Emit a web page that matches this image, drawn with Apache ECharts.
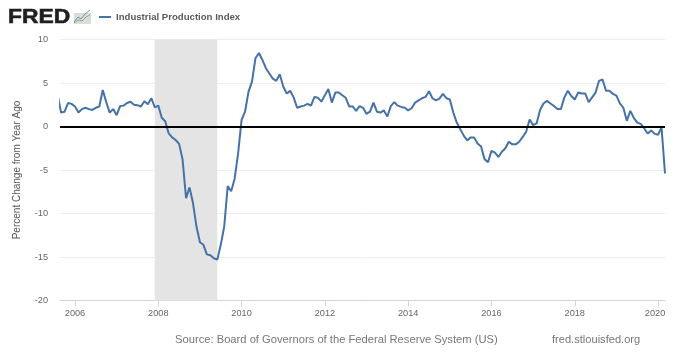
<!DOCTYPE html>
<html>
<head>
<meta charset="utf-8">
<style>html,body{margin:0;padding:0;background:#fff}#c{width:680px;height:360px}</style>
<script src="https://cdn.jsdelivr.net/npm/echarts@6/dist/echarts.min.js"></script>
</head>
<body>
<div id="c"></div>
<script>
const seriesName = 'Industrial Production Index';
const tickYears = [2006, 2008, 2010, 2012, 2014, 2016, 2018, 2020];
const recession = [2007 + 11 / 12, 2009 + 5 / 12];
const firstMonth = [2005, 7]; // Aug 2005
const xRange = [2005.64, 2020 + 2 / 12];
const y2005 = [3.6, 1.6, 1.7, 2.7, 2.6];
const y2006 = [2.3, 1.6, 2.0, 2.15, 2.0, 1.9, 2.15, 2.3, 4.2, 2.8, 1.6, 2.0];
const y2007 = [1.3, 2.35, 2.4, 2.7, 2.85, 2.5, 2.45, 2.3, 2.9, 2.55, 3.25, 2.2];
const y2008 = [2.4, 1.0, 0.6, -0.8, -1.25, -1.55, -2.0, -3.8, -8.25, -7.0, -8.8, -11.5];
const y2009 = [-13.3, -13.6, -14.7, -14.8, -15.15, -15.3, -13.6, -11.5, -6.85, -7.45, -6.0, -3.1];
const y2010 = [0.75, 1.7, 4.0, 5.15, 7.85, 8.45, 7.65, 6.7, 6.1, 5.5, 5.25, 6.0];
const y2011 = [4.6, 3.8, 4.1, 3.35, 2.15, 2.3, 2.4, 2.6, 2.4, 3.4, 3.3, 2.85];
const y2012 = [3.6, 4.3, 2.75, 3.9, 3.9, 3.6, 3.3, 2.3, 2.3, 1.8, 2.35, 2.15];
const y2013 = [1.45, 1.7, 2.75, 1.7, 1.6, 1.85, 1.15, 2.35, 2.8, 2.4, 2.25, 2.15];
const y2014 = [1.85, 2.1, 2.75, 3.0, 3.25, 3.4, 4.05, 3.25, 3.0, 3.2, 3.75, 3.25];
const y2015 = [3.1, 1.6, 0.45, -0.3, -1.05, -1.6, -1.25, -1.25, -1.95, -2.3, -3.75, -4.1];
const y2016 = [-2.8, -3.0, -3.5, -2.9, -2.5, -1.75, -2.05, -2.05, -1.75, -1.2, -0.6, 0.8];
const y2017 = [0.15, 0.35, 1.9, 2.65, 2.95, 2.65, 2.35, 2.0, 2.0, 3.35, 4.1, 3.5];
const y2018 = [3.1, 3.9, 3.8, 3.8, 2.8, 3.35, 3.9, 5.25, 5.4, 4.1, 4.1, 3.75];
const y2019 = [3.55, 2.65, 2.15, 0.65, 1.8, 1.0, 0.45, 0.3, -0.2, -0.8, -0.45, -0.85];
const y2020 = [-0.95, -0.1, -5.4];

const values = [].concat(y2005, y2006, y2007, y2008, y2009, y2010, y2011, y2012,
  y2013, y2014, y2015, y2016, y2017, y2018, y2019, y2020);
const points = values.map((v, i) => [firstMonth[0] + (firstMonth[1] + i) / 12, v]);

const chart = echarts.init(document.getElementById('c'), null, {renderer: 'canvas'});
const font = '"Liberation Sans", Arial, sans-serif';
chart.setOption({
  animation: false,
  backgroundColor: '#fff',
  textStyle: {fontFamily: font},
  grid: {left: 60, right: 15, top: 39.5, bottom: 59.5, containLabel: false},
  legend: {
    left: 94, top: 7, icon: 'rect', itemWidth: 12, itemHeight: 2, itemGap: 4,
    textStyle: {color: '#5a5a5a', fontSize: 9.6, fontWeight: 'bold', fontFamily: font},
    data: [seriesName]
  },
  xAxis: {
    type: 'value',
    min: xRange[0],
    max: xRange[1],
    axisLine: {onZero: false, lineStyle: {color: '#ccd6eb', width: 1}},
    axisTick: {show: true, length: 6, customValues: tickYears, lineStyle: {color: '#ccd6eb'}},
    axisLabel: {
      customValues: tickYears, color: '#666', fontSize: 9.2, margin: 8, hideOverlap: false,
      showMinLabel: true, showMaxLabel: true,
      formatter: v => {
        const y = Math.round(v);
        return y === 2020 ? '{s|' + y + '}' : String(y);
      },
      rich: {s: {color: '#666', fontSize: 9.2, padding: [0, 6, 0, 0]}}
    },
    splitLine: {show: false}
  },
  yAxis: {
    type: 'value', min: -20, max: 10, interval: 5,
    name: 'Percent Change from Year Ago',
    nameLocation: 'middle', nameGap: 38, nameRotate: 90,
    nameTextStyle: {color: '#555', fontSize: 10},
    axisLine: {show: false}, axisTick: {show: false},
    axisLabel: {color: '#666', fontSize: 9.2, margin: 12},
    splitLine: {lineStyle: {color: '#eeeeee', width: 1}}
  },
  series: [{
    name: seriesName, type: 'line', data: points, showSymbol: false, symbol: 'none',
    smooth: false, clip: true,
    lineStyle: {color: '#4572a7', width: 2}, itemStyle: {color: '#4572a7'},
    markArea: {
      silent: true, itemStyle: {color: '#e4e4e4'},
      data: [[{xAxis: recession[0]}, {xAxis: recession[1]}]]
    },
    markLine: {
      silent: true, symbol: 'none', label: {show: false},
      lineStyle: {color: '#000', width: 2, type: 'solid'},
      data: [{yAxis: 0}]
    }
  }],
  graphic: [
    {type: 'text', x: 8, y: 7, scaleX: 1.09, style: {text: 'FRED', font: '900 21px "Liberation Sans", Arial, sans-serif', fill: '#231f20', stroke: '#231f20', lineWidth: 0.6}},
    {type: 'rect', shape: {x: 74, y: 13, width: 17, height: 11}, style: {fill: '#dcdcdc'}},
    {type: 'polyline', shape: {points: [[74, 22], [78, 17], [81, 19], [85, 14], [90, 10]]}, style: {stroke: '#6f93bd', fill: 'none', lineWidth: 1}},
    {type: 'polyline', shape: {points: [[74, 23], [78, 20], [82, 21], [86, 17], [90, 15]]}, style: {stroke: '#8fb06a', fill: 'none', lineWidth: 1}},
    {type: 'text', left: 175, top: 334, style: {text: 'Source: Board of Governors of the Federal Reserve System (US)', font: '11.2px "Liberation Sans", Arial, sans-serif', fill: '#777'}},
    {type: 'text', left: 552, top: 334, style: {text: 'fred.stlouisfed.org', font: '11.1px "Liberation Sans", Arial, sans-serif', fill: '#777'}}
  ]
});
</script>
</body>
</html>
